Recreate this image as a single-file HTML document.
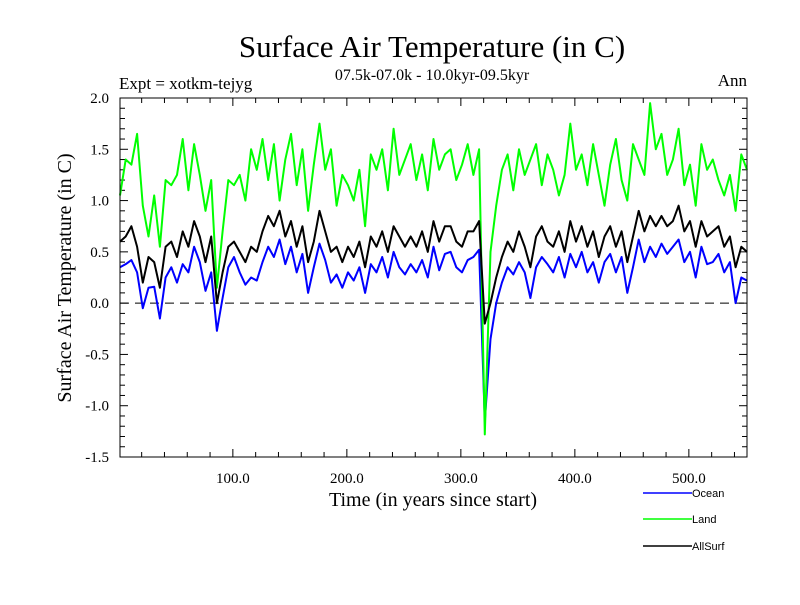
<!DOCTYPE html>
<html><head><meta charset="utf-8"><style>
body{margin:0;background:#fff;}
svg text{font-family:"Liberation Serif",serif;fill:#000;}
svg text.sans{font-family:"Liberation Sans",sans-serif;}
</style></head><body>
<svg id="chart" width="800" height="600" viewBox="0 0 800 600" xmlns="http://www.w3.org/2000/svg">
<rect width="800" height="600" fill="#fff"/>
<text x="432" y="57" font-size="31" text-anchor="middle">Surface Air Temperature (in C)</text>
<text x="119" y="89" font-size="17">Expt = xotkm-tejyg</text>
<text x="432" y="80" font-size="16" text-anchor="middle">07.5k-07.0k - 10.0kyr-09.5kyr</text>
<text x="747" y="86" font-size="17" text-anchor="end">Ann</text>
<text transform="translate(71,278) rotate(-90)" font-size="20" text-anchor="middle">Surface Air Temperature (in C)</text>
<text x="433" y="506" font-size="20" text-anchor="middle">Time (in years since start)</text>
<g id="ticks"></g>
<g id="series"></g>
<rect x="120" y="98" width="627" height="359" fill="none" stroke="#000" stroke-width="1"/>
<g id="legend"></g>
</svg>
<script>
const xTicks=[100,200,300,400,500];
const xTickLabels=["100.0","200.0","300.0","400.0","500.0"];
const yTicks=[-1.5,-1.0,-0.5,0.0,0.5,1.0,1.5,2.0];
const yTickLabels=["-1.5","-1.0","-0.5","0.0","0.5","1.0","1.5","2.0"];
const seriesNames=["Ocean","Land","AllSurf"];
const ocean=[0.35,0.38,0.42,0.30,-0.05,0.15,0.16,-0.15,0.25,0.35,0.20,0.38,0.30,0.55,0.40,0.12,0.30,-0.27,0.05,0.35,0.45,0.30,0.18,0.25,0.22,0.40,0.55,0.45,0.62,0.38,0.55,0.30,0.48,0.10,0.35,0.58,0.42,0.20,0.28,0.15,0.30,0.22,0.35,0.10,0.38,0.30,0.45,0.25,0.50,0.35,0.28,0.38,0.30,0.42,0.25,0.55,0.32,0.48,0.50,0.35,0.30,0.42,0.45,0.52,-1.15,-0.35,0.00,0.20,0.35,0.28,0.40,0.30,0.05,0.35,0.45,0.38,0.30,0.45,0.25,0.48,0.35,0.50,0.30,0.40,0.20,0.40,0.48,0.30,0.45,0.10,0.35,0.62,0.40,0.55,0.45,0.58,0.48,0.55,0.62,0.40,0.50,0.25,0.55,0.38,0.40,0.48,0.30,0.40,0.00,0.25,0.22];
const land=[1.05,1.40,1.35,1.65,0.95,0.65,1.05,0.55,1.20,1.15,1.25,1.60,1.10,1.55,1.25,0.90,1.20,0.15,0.70,1.20,1.15,1.25,1.00,1.50,1.30,1.60,1.20,1.55,1.00,1.40,1.65,1.15,1.50,0.90,1.35,1.75,1.30,1.50,0.95,1.25,1.15,1.00,1.30,0.75,1.45,1.30,1.50,1.10,1.70,1.25,1.40,1.55,1.20,1.45,1.10,1.60,1.30,1.45,1.50,1.20,1.35,1.55,1.25,1.50,-1.28,0.50,0.95,1.30,1.45,1.10,1.50,1.25,1.40,1.55,1.15,1.45,1.30,1.05,1.25,1.75,1.30,1.45,1.15,1.55,1.25,0.95,1.35,1.60,1.20,1.00,1.55,1.40,1.25,1.95,1.50,1.65,1.25,1.40,1.70,1.15,1.35,0.95,1.55,1.30,1.40,1.20,1.05,1.25,0.90,1.45,1.30];
const allSurf=[0.60,0.65,0.75,0.55,0.20,0.45,0.40,0.15,0.55,0.60,0.45,0.70,0.55,0.80,0.65,0.40,0.65,0.00,0.30,0.55,0.60,0.50,0.40,0.55,0.50,0.70,0.85,0.75,0.90,0.65,0.80,0.55,0.75,0.40,0.60,0.90,0.70,0.50,0.55,0.40,0.55,0.45,0.60,0.35,0.65,0.55,0.70,0.50,0.75,0.65,0.55,0.65,0.55,0.70,0.50,0.80,0.60,0.75,0.75,0.60,0.55,0.70,0.70,0.80,-0.20,0.00,0.25,0.45,0.60,0.50,0.70,0.55,0.35,0.65,0.75,0.60,0.55,0.70,0.50,0.80,0.60,0.75,0.55,0.70,0.45,0.65,0.75,0.55,0.70,0.40,0.65,0.90,0.70,0.85,0.75,0.85,0.75,0.80,0.95,0.70,0.80,0.55,0.80,0.65,0.70,0.75,0.55,0.65,0.35,0.55,0.50];
const years=ocean.map((v,i)=>1+5*i);

const NS="http://www.w3.org/2000/svg";
const L=120,R=747,T=98,B=457,X0=1,X1=551,Y0=-1.5,Y1=2.0;
const sx=v=>L+(v-X0)/(X1-X0)*(R-L);
const sy=v=>B-(v-Y0)/(Y1-Y0)*(B-T);
function mk(tag,attrs,parent){const e=document.createElementNS(NS,tag);for(const k in attrs)e.setAttribute(k,attrs[k]);parent.appendChild(e);return e;}
const tg=document.getElementById('ticks');
for(let v=20;v<X1;v+=20){const x=sx(v);const big=v%100===0;const len=big?8:5;
 const t1=mk('line',{x1:x,x2:x,y1:B,y2:B-len,stroke:'#000'},tg);
 
 
 const t2=mk('line',{x1:x,x2:x,y1:T,y2:T+len,stroke:'#000'},tg);
 
 }
xTicks.forEach((v,i)=>{const t=mk('text',{x:sx(v),y:483,'font-size':15,'text-anchor':'middle'},tg);t.textContent=xTickLabels[i];
 
 });
for(let k=-15;k<=20;k++){const v=k/10;const y=sy(v);const big=k%5===0;const len=big?8:5;
 const t1=mk('line',{x1:L,x2:L+len,y1:y,y2:y,stroke:'#000'},tg);
 
 
 const t2=mk('line',{x1:R,x2:R-len,y1:y,y2:y,stroke:'#000'},tg);
 
 }
yTicks.forEach((v,i)=>{const t=mk('text',{x:109,y:sy(v)+5,'font-size':15,'text-anchor':'end'},tg);t.textContent=yTickLabels[i];
 
 });
const zl=mk('line',{x1:L,x2:R,y1:sy(0),y2:sy(0),stroke:'#000','stroke-dasharray':'9,6'},tg);


const sg=document.getElementById('series');
const defs=[[ocean,'#0000ff','ocean-line'],[land,'#00ff00','land-line'],[allSurf,'#000000','allsurf-line']];
defs.forEach(([d,c,n])=>{const p=mk('polyline',{points:d.map((v,i)=>sx(years[i])+','+sy(v)).join(' '),fill:'none',stroke:c,'stroke-width':2,'stroke-linejoin':'round'},sg);
 
 });
const lg=document.getElementById('legend');
const lc=['#0000ff','#00ff00','#000000'];const ly=[493,519,546];
seriesNames.forEach((n,i)=>{const ln=mk('line',{x1:643,x2:692,y1:ly[i],y2:ly[i],stroke:lc[i],'stroke-width':1.5},lg);
 
 
 const t=mk('text',{x:692,y:ly[i]+4,'font-size':11,'class':'sans'},lg);t.textContent=n;
 
 });
</script>
</body></html>
